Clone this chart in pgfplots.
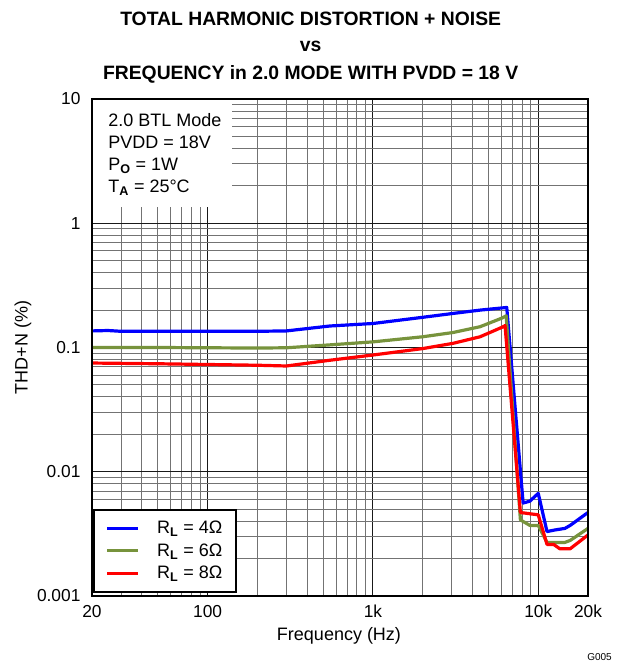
\documentclass[border=0pt]{standalone}
\usepackage{fontspec}
\setmainfont{Liberation Sans}
\usepackage{pgfplots}
\pgfplotsset{compat=1.18}

\definecolor{thdblue}{RGB}{0,0,255}
\definecolor{thdgreen}{RGB}{119,147,60}
\definecolor{thdred}{RGB}{255,0,0}

\begin{document}
\begin{tikzpicture}
\begin{axis}[
    name=ax,
    scale only axis,
    width=372pt,
    height=372.75pt,
    xmode=log,
    ymode=log,
    xmin=20, xmax=20000,
    ymin=0.001, ymax=10,
    xtick={20,100,1000,10000,20000},
    xticklabels={20,100,1k,10k,20k},
    minor xtick={30,40,50,60,70,80,90,200,300,400,500,600,700,800,900,2000,3000,4000,5000,6000,7000,8000,9000},
    ytick={0.001,0.01,0.1,1,10},
    yticklabels={0.001,0.01,0.1,1,10},
    minor ytick={0.002,0.003,0.004,0.005,0.006,0.007,0.008,0.009,0.02,0.03,0.04,0.05,0.06,0.07,0.08,0.09,0.2,0.3,0.4,0.5,0.6,0.7,0.8,0.9,2,3,4,5,6,7,8,9},
    major tick length=0pt,
    minor tick length=0pt,
    grid=both,
    major grid style={black!90, line width=0.75pt},
    minor grid style={black!55, line width=0.75pt},
    axis line style={line width=1.5pt},
    ticklabel style={font=\fontsize{13}{15}\selectfont},
    xticklabel style={anchor=base, yshift=-15.75pt},
    yticklabel style={anchor=east, inner sep=0pt, xshift=-8.5pt},
    legend style={
        at={(0.003,0.006)},
        anchor=south west,
        draw=black,
        line width=1.5pt,
        fill=white,
        font=\fontsize{13.5}{16}\selectfont,
        inner xsep=8.5pt,
        inner ysep=6.5pt,
        row sep=2pt,
        /tikz/every odd column/.append style={column sep=11pt},
    },
    legend cell align=left,
    legend image code/.code={\draw[#1, line width=2.4pt] (0pt,0pt) -- (23pt,0pt);},
]

% R_L = 4 ohm
\addplot[thdblue, line width=2.4pt, line join=round] coordinates {
    (20,0.136) (25,0.137) (30,0.135) (50,0.135) (100,0.135) (200,0.135)
    (300,0.136) (550,0.149) (1000,0.156) (2000,0.175) (3050,0.188)
    (4450,0.200) (6000,0.208) (6450,0.210) (8100,0.0056) (8900,0.0058)
    (10000,0.0067) (11300,0.0033) (12600,0.0034) (14500,0.0035)
    (15600,0.0037) (20000,0.0047)
};
\addlegendentry{R\textsubscript{\textbf{L}} = 4Ω}

% R_L = 6 ohm
\addplot[thdgreen, line width=2.4pt, line join=round] coordinates {
    (20,0.100) (50,0.100) (100,0.0995) (200,0.099) (300,0.0995)
    (550,0.105) (1000,0.111) (2000,0.122) (3050,0.132) (4450,0.147)
    (6000,0.172) (6400,0.180) (7800,0.0041) (8900,0.0037) (10000,0.0037)
    (11300,0.0027) (14500,0.0027) (15600,0.0028) (20000,0.0035)
};
\addlegendentry{R\textsubscript{\textbf{L}} = 6Ω}

% R_L = 8 ohm
\addplot[thdred, line width=2.4pt, line join=round] coordinates {
    (20,0.075) (50,0.074) (100,0.073) (200,0.072) (300,0.071)
    (550,0.079) (1000,0.087) (2000,0.098) (3050,0.108) (4450,0.122)
    (6000,0.145) (6300,0.150) (7800,0.0047) (10000,0.0045) (11300,0.0026)
    (12400,0.0026) (13500,0.0024) (15600,0.0024) (20000,0.0031)
};
\addlegendentry{R\textsubscript{\textbf{L}} = 8Ω}

\end{axis}

% condition box
\fill[white] ([shift={(0.75pt,-0.75pt)}]ax.north west) rectangle +(104.25pt,-80.25pt);
\begin{scope}[every node/.style={anchor=base west, inner sep=0pt, font=\fontsize{13.5}{16}\selectfont}]
\node at ([shift={(12pt,-21pt)}]ax.north west) {2.0 BTL Mode};
\node at ([shift={(12pt,-37.3pt)}]ax.north west) {PVDD = 18V};
\node at ([shift={(12pt,-53.6pt)}]ax.north west) {P\textsubscript{\textbf{O}} = 1W};
\node at ([shift={(12pt,-69.9pt)}]ax.north west) {T\textsubscript{\textbf{A}} = 25°C};
\end{scope}

\draw[line width=1.5pt] (ax.south west) rectangle (ax.north east);

% titles and labels
\begin{scope}[every node/.style={anchor=base, inner sep=0pt, font=\fontsize{14.5}{17}\selectfont\bfseries}]
\node at ([shift={(164pt,55pt)}]ax.north west) {TOTAL HARMONIC DISTORTION + NOISE};
\node at ([shift={(164pt,35.25pt)}]ax.north west) {vs};
\node at ([shift={(164pt,14.25pt)}]ax.north west) {FREQUENCY in 2.0 MODE WITH PVDD = 18 V};
\end{scope}
\node[anchor=base, inner sep=0pt, font=\fontsize{13.5}{16}\selectfont] at ([shift={(185.25pt,-33.75pt)}]ax.south west) {Frequency (Hz)};
\node[rotate=90, inner sep=0pt, font=\fontsize{13.5}{16}\selectfont] at ([xshift=-51.75pt]ax.west) {THD+N (\%)};
\node[anchor=base east, inner sep=0pt, font=\fontsize{7.5}{9}\selectfont] at ([shift={(18pt,-48pt)}]ax.south east) {G005};

\path ([shift={(-69pt,-51.75pt)}]ax.south west) rectangle ([shift={(24.75pt,74.25pt)}]ax.north east);
\end{tikzpicture}
\end{document}
